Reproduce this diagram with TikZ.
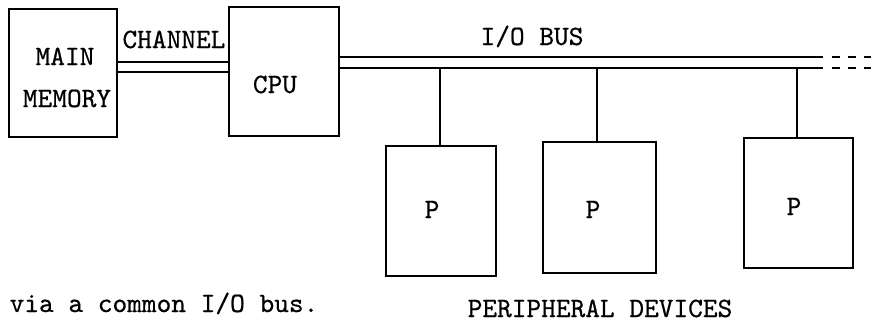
\documentclass[tikz,border=0pt]{standalone}
\usepackage{fontspec}
\newfontfamily\twfont[FakeBold=0.6]{lmmono10-regular.otf}
\begin{document}
\begin{tikzpicture}[x=1pt,y=-1pt,
  box/.style={draw,line width=2.8pt,minimum width=#1,inner sep=0pt},
  lbl/.style={inner sep=0pt,anchor=base,font=\twfont\fontsize{28}{32}\selectfont},
  wire/.style={line width=2.6pt},
  dashwire/.style={line width=2.6pt,dash pattern=on 8pt off 8pt}]
\useasboundingbox (0,0) rectangle (871,322);
% boxes
\node[box=108pt,minimum height=128pt] (mem) at (63,73) {};
\node[box=110pt,minimum height=129pt] (cpu) at (284,71.5) {};
\node[box=110pt,minimum height=130pt] (p1) at (441,211) {};
\node[box=113pt,minimum height=131pt] (p2) at (599.5,207.5) {};
\node[box=109pt,minimum height=130pt] (p3) at (798.5,203) {};
% labels
\node[lbl] (tmain) at (65,65) {MAIN};
\node[lbl] (tmem) at (67,107) {MEMORY};
\node[lbl] (tchan) at (174,48) {CHANNEL};
\node[lbl] (tcpu) at (275,93) {CPU};
\node[lbl] (tbus) at (532,45) {I/O BUS};
\node[lbl] (tp1) at (432,218) {P};
\node[lbl] (tp2) at (593,218) {P};
\node[lbl] (tp3) at (794,215) {P};
\node[lbl] (tdev) at (600,317) {PERIPHERAL DEVICES};
\node[lbl] (tvia) at (164,312) {via a common I/O bus.};
% channel
\draw[wire] (mem.east |- 0,62) -- (cpu.west |- 0,62);
\draw[wire] (mem.east |- 0,72) -- (cpu.west |- 0,72);
% I/O bus
\coordinate (b1) at (823,57);
\coordinate (b2) at (823,68);
\coordinate (d1) at (832,57);
\coordinate (d2) at (832,68);
\coordinate (e1) at (871,57);
\coordinate (e2) at (871,68);
\draw[wire] (cpu.east |- b1) -- (b1);
\draw[wire] (cpu.east |- b2) -- (b2);
\draw[dashwire] (d1) -- (e1);
\draw[dashwire] (d2) -- (e2);
% drops
\draw[wire] (440,68) -- (p1.north -| 440,0);
\draw[wire] (597,68) -- (p2.north -| 597,0);
\draw[wire] (797,68) -- (p3.north -| 797,0);
\end{tikzpicture}
\end{document}
